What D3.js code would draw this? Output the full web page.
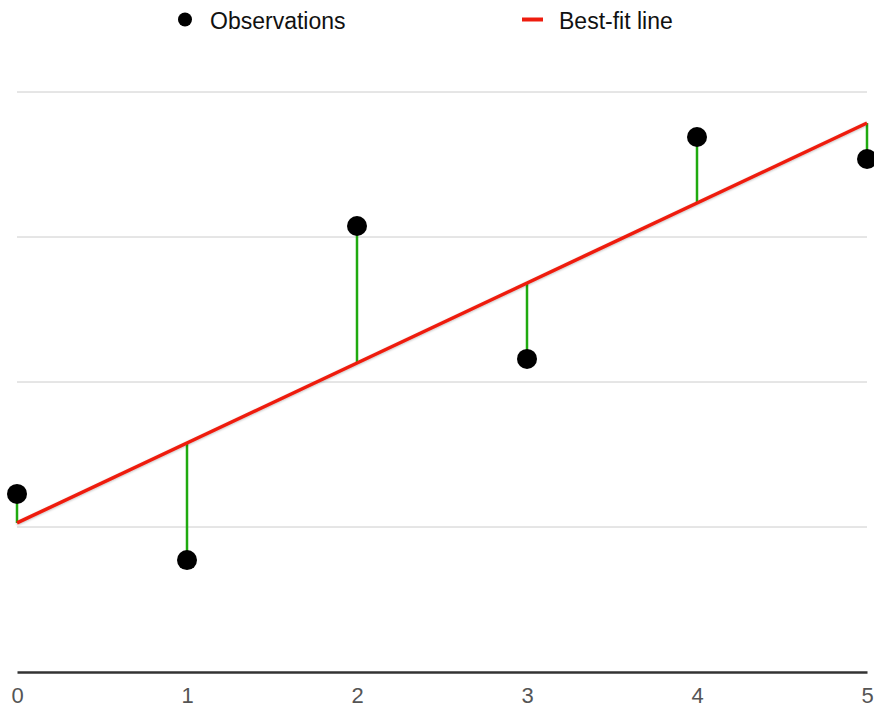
<!DOCTYPE html>
<html><head><meta charset="utf-8">
<script src="https://cdn.jsdelivr.net/npm/d3@7"></script>
<style>body{margin:0;background:#fff}svg{display:block}</style>
</head><body>
<svg id="c" width="874" height="708"></svg>
<script>
const xValues = [0, 1, 2, 3, 4, 5];
const observations = [1.228, 0.772, 3.076, 2.159, 3.69, 3.538];
const fitX = [0, 5];
const fitY = [1.028, 3.786];
const xTicks = [0, 1, 2, 3, 4, 5];
const yGrid = [1, 2, 3, 4];
const legendLabels = ["Observations", "Best-fit line"];

const svg = d3.select("#c");
const x = d3.scaleLinear().domain([0, 5]).range([17, 867]);
const y = d3.scaleLinear().domain([0, 4]).range([672, 92]);
const fitAt = v => fitY[0] + (fitY[1] - fitY[0]) * (v - fitX[0]) / (fitX[1] - fitX[0]);
const font = "Helvetica, Arial, 'Liberation Sans', sans-serif";

svg.append("g").selectAll("line").data(yGrid).join("line")
  .attr("x1", x(0)).attr("x2", x(5))
  .attr("y1", d => y(d)).attr("y2", d => y(d))
  .attr("stroke", "#cccccc").attr("stroke-width", 1);

const xa = svg.append("g").attr("transform", `translate(0,${y(0)})`)
  .call(d3.axisBottom(x).tickValues(xTicks).tickSize(0).tickPadding(15).tickFormat(d3.format("d")));
xa.select(".domain").attr("stroke", "#333").attr("stroke-width", 2.5);
xa.selectAll("text").attr("font-family", font).attr("font-size", 22).attr("fill", "#555");

svg.append("g").selectAll("line").data(xValues).join("line")
  .attr("x1", d => x(d)).attr("x2", d => x(d))
  .attr("y1", (d, i) => y(observations[i])).attr("y2", d => y(fitAt(d)))
  .attr("stroke", "#1faa0f").attr("stroke-width", 2.5);

const defs = svg.append("defs");
const f = defs.append("filter").attr("id", "sh").attr("x", "-10%").attr("y", "-10%").attr("width", "120%").attr("height", "130%");
f.append("feDropShadow").attr("dx", 0).attr("dy", 1).attr("stdDeviation", 1).attr("flood-color", "#000").attr("flood-opacity", 0.25);

svg.append("path")
  .datum(fitX.map((v, i) => [v, fitY[i]]))
  .attr("d", d3.line().x(d => x(d[0])).y(d => y(d[1])))
  .attr("stroke", "#ee1c0e").attr("stroke-width", 3.5).attr("fill", "none")
  .attr("filter", "url(#sh)");

svg.append("g").selectAll("circle").data(xValues).join("circle")
  .attr("cx", d => x(d)).attr("cy", (d, i) => y(observations[i]))
  .attr("r", 10).attr("fill", "#000");

const lg = svg.append("g");
lg.append("circle").attr("cx", 185).attr("cy", 19.5).attr("r", 7).attr("fill", "#000");
lg.append("text").attr("x", 210).attr("y", 28.5).text(legendLabels[0])
  .attr("font-family", font).attr("font-size", 23).attr("fill", "#111");
lg.append("line").attr("x1", 522).attr("x2", 543).attr("y1", 19.5).attr("y2", 19.5)
  .attr("stroke", "#ee1c0e").attr("stroke-width", 4);
lg.append("text").attr("x", 559).attr("y", 28.5).text(legendLabels[1])
  .attr("font-family", font).attr("font-size", 23).attr("fill", "#111");
</script>
</body></html>
